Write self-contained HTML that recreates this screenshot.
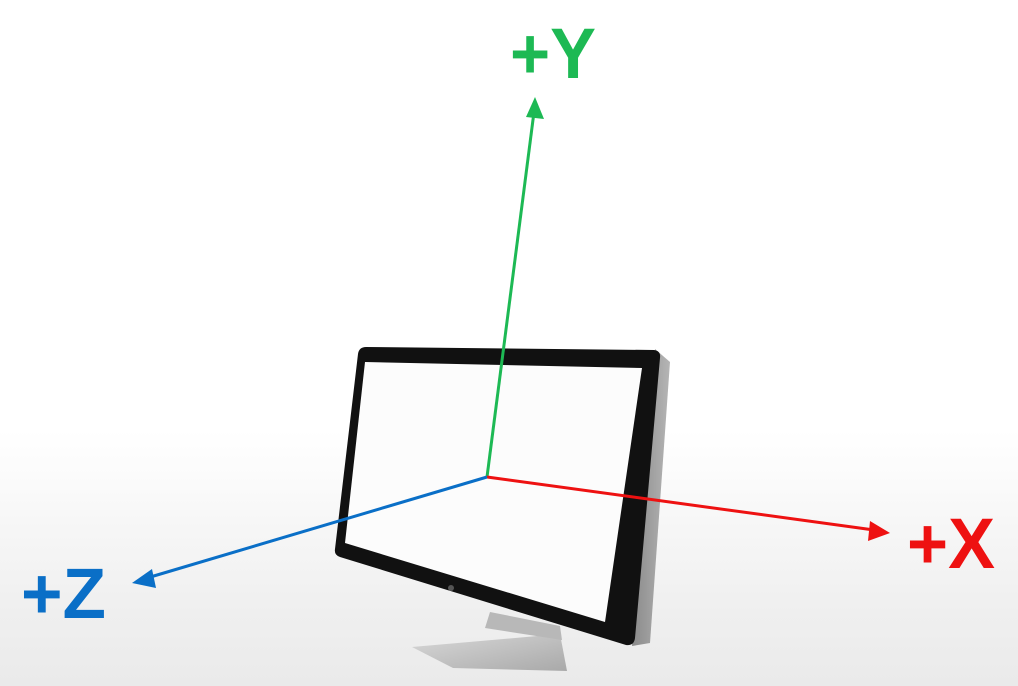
<!DOCTYPE html>
<html><head><meta charset="utf-8"><style>
html,body{margin:0;padding:0}
body{width:1018px;height:686px;overflow:hidden;background:linear-gradient(#fff 0,#fff 430px,#f0f0f0 600px,#eaeaea 686px);position:relative}
svg{position:absolute;left:0;top:0}
text{font-family:"Liberation Sans",sans-serif;font-weight:bold;font-size:71px}
</style></head><body>
<svg width="1018" height="686">
<defs>
<linearGradient id="stand" x1="0" y1="0" x2="1" y2="1"><stop offset="0" stop-color="#d8d8d8"/><stop offset="1" stop-color="#a9a9a9"/></linearGradient>
<linearGradient id="side" x1="0" y1="0" x2="1" y2="0"><stop offset="0" stop-color="#8a8a8a"/><stop offset="1" stop-color="#b5b5b5"/></linearGradient>
</defs>
<g>
<polygon points="412,647 560,634 567,671 453,668" fill="url(#stand)"/>
<polygon points="490,612 560,626 562,640 485,628" fill="#b8b8b8"/>
<polygon points="655,349 670,362 650,643 632,646" fill="url(#side)"/>
<path d="M366,347 L654,350 Q661,351 660,358 L635,638 Q634,646 626,645 L340,557 Q334,555 335,549 L358,354 Q359,347 366,347 Z" fill="#111"/>
<polygon points="365,362 642,368 605,622 345,543" fill="#fcfcfc"/>
<circle cx="451" cy="588" r="3" fill="#555"/>
</g>
<g>
<line x1="487" y1="477" x2="534" y2="112" stroke="#1db954" stroke-width="3"/>
<polygon points="535,97 526,117 544,119" fill="#1db954"/>
</g>
<g>
<line x1="487" y1="477" x2="874" y2="530" stroke="#ee1111" stroke-width="3"/>
<polygon points="890,533 870,521 868,541" fill="#ee1111"/>
</g>
<g>
<line x1="487" y1="477" x2="147" y2="578" stroke="#0a6fc7" stroke-width="3"/>
<polygon points="132,583 152,569 156,588" fill="#0a6fc7"/>
</g>
<text x="510" y="78" fill="#1db954" textLength="86" lengthAdjust="spacingAndGlyphs">+Y</text>
<text x="907" y="568" fill="#ee1111" textLength="88" lengthAdjust="spacingAndGlyphs">+X</text>
<text x="21" y="618" fill="#0a6fc7" textLength="85" lengthAdjust="spacingAndGlyphs">+Z</text>
</svg>
</body></html>
